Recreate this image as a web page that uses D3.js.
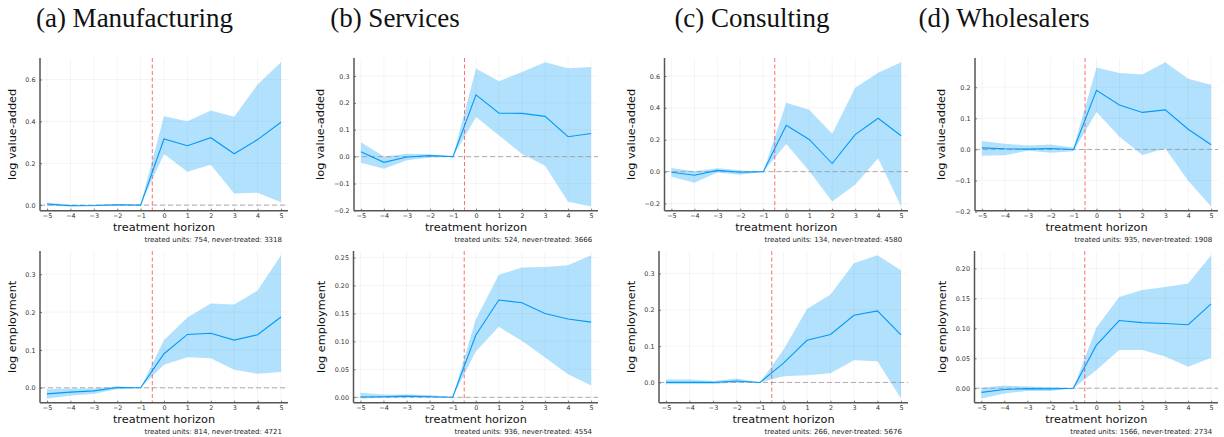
<!DOCTYPE html>
<html>
<head>
<meta charset="utf-8">
<script src="https://cdn.jsdelivr.net/npm/d3@7/dist/d3.min.js"></script>
<style>
  html, body { margin: 0; padding: 0; background: #fff; }
  svg { display: block; }
</style>
</head>
<body>
<svg id="chart" width="1224" height="437"></svg>
<script>
// Event-study estimates by sector, horizons -5..5 around treatment
const horizon = [-5, -4, -3, -2, -1, 0, 1, 2, 3, 4, 5];
const sectors = ["(a) Manufacturing", "(b) Services", "(c) Consulting", "(d) Wholesalers"];
const outcomes = ["log value-added", "log employment"];
const eventLine = -0.5;

// log value-added: point estimates and confidence bounds
const vaMfgEst = [0.005, -0.003, -0.002, 0.002, 0, 0.316, 0.284, 0.322, 0.245, 0.313, 0.396];
const vaMfgLo  = [-0.003, -0.006, -0.005, -0.002, 0, 0.244, 0.159, 0.193, 0.056, 0.059, 0.014];
const vaMfgHi  = [0.013, 0.002, 0.001, 0.004, 0, 0.424, 0.401, 0.452, 0.422, 0.576, 0.682];

const vaSrvEst = [0.018, -0.021, -0.001, 0.004, 0, 0.230, 0.162, 0.161, 0.150, 0.074, 0.086];
const vaSrvLo  = [-0.023, -0.045, -0.013, -0.003, 0, 0.148, 0.079, 0.010, -0.034, -0.168, -0.185];
const vaSrvHi  = [0.054, 0.001, 0.011, 0.009, 0, 0.328, 0.281, 0.315, 0.351, 0.329, 0.334];

const vaConEst = [-0.004, -0.023, 0.008, -0.004, 0, 0.291, 0.202, 0.051, 0.232, 0.335, 0.225];
const vaConLo  = [-0.032, -0.069, -0.006, -0.019, 0, 0.173, 0.004, -0.187, -0.082, 0.084, -0.218];
const vaConHi  = [0.023, 0.002, 0.021, 0.008, 0, 0.432, 0.389, 0.238, 0.526, 0.621, 0.686];

const vaWhoEst = [0.005, 0.002, 0.001, 0.003, 0, 0.190, 0.143, 0.119, 0.127, 0.065, 0.015];
const vaWhoLo  = [-0.020, -0.019, -0.004, -0.011, -0.006, 0.120, 0.041, -0.018, 0.003, -0.101, -0.183];
const vaWhoHi  = [0.027, 0.018, 0.013, 0.016, 0.006, 0.263, 0.246, 0.241, 0.280, 0.227, 0.208];

// log employment: point estimates and confidence bounds
const empMfgEst = [-0.016, -0.0115, -0.008, 0.001, 0, 0.090, 0.141, 0.144, 0.126, 0.140, 0.187];
const empMfgLo  = [-0.028, -0.021, -0.016, -0.004, 0, 0.061, 0.081, 0.078, 0.048, 0.037, 0.042];
const empMfgHi  = [-0.004, -0.002, -0.002, 0.004, 0, 0.126, 0.186, 0.223, 0.220, 0.257, 0.350];

const empSrvEst = [0.0006, 0.001, 0.002, 0.001, 0, 0.111, 0.174, 0.169, 0.150, 0.140, 0.1345];
const empSrvLo  = [-0.002, -0.001, -0.0006, -0.0006, 0, 0.082, 0.126, 0.101, 0.071, 0.041, 0.021];
const empSrvHi  = [0.008, 0.005, 0.005, 0.004, 0, 0.139, 0.219, 0.232, 0.233, 0.236, 0.254];

const empConEst = [0, 0, 0, 0.004, 0, 0.053, 0.116, 0.132, 0.185, 0.197, 0.131];
const empConLo  = [-0.005, -0.004, -0.004, -0.001, 0, 0.017, 0.020, 0.025, 0.061, 0.058, -0.044];
const empConHi  = [0.008, 0.008, 0.004, 0.011, 0, 0.090, 0.202, 0.242, 0.328, 0.350, 0.309];

const empWhoEst = [-0.007, -0.002, -0.0006, -0.001, 0, 0.0715, 0.113, 0.1095, 0.108, 0.106, 0.141];
const empWhoLo  = [-0.017, -0.009, -0.0045, -0.0045, 0, 0.030, 0.0637, 0.0637, 0.053, 0.036, 0.051];
const empWhoHi  = [0.0006, 0.0045, 0.003, 0.002, 0, 0.101, 0.1525, 0.164, 0.169, 0.175, 0.222];

// sample sizes per panel
const treatedVA  = [754, 524, 134, 935];
const neverVA    = [3318, 3666, 4580, 1908];
const treatedEmp = [814, 936, 266, 1566];
const neverEmp   = [4721, 4554, 5676, 2734];

// y-axis tick values per panel
const yticksVA  = [[0, 0.2, 0.4, 0.6], [-0.2, -0.1, 0, 0.1, 0.2, 0.3], [-0.2, 0, 0.2, 0.4, 0.6], [-0.2, -0.1, 0, 0.1, 0.2]];
const yticksEmp = [[0, 0.1, 0.2, 0.3], [0, 0.05, 0.1, 0.15, 0.2, 0.25], [0, 0.1, 0.2, 0.3], [0, 0.05, 0.1, 0.15, 0.2]];

const vaSeries  = [[vaMfgEst, vaMfgLo, vaMfgHi], [vaSrvEst, vaSrvLo, vaSrvHi], [vaConEst, vaConLo, vaConHi], [vaWhoEst, vaWhoLo, vaWhoHi]];
const empSeries = [[empMfgEst, empMfgLo, empMfgHi], [empSrvEst, empSrvLo, empSrvHi], [empConEst, empConLo, empConHi], [empWhoEst, empWhoLo, empWhoHi]];

// ---- layout ----
const colRight = [288, 598, 908, 1218];
const rowLeft = [[40, 354, 664.5, 975], [40, 353.5, 659, 974.5]];
const rowTop = [58, 251];
const rowBottom = [210.7, 402.7];
const titleCenter = [134.5, 395, 752, 1004];

const BLUE = "#009AFA";
const sans = "'DejaVu Sans', sans-serif";
const svg = d3.select("#chart");

svg.append("rect").attr("width", 1224).attr("height", 437).attr("fill", "#fff");

sectors.forEach((name, i) => {
  svg.append("text")
    .attr("x", titleCenter[i]).attr("y", 27)
    .attr("text-anchor", "middle")
    .attr("font-family", "'Liberation Serif', serif")
    .attr("font-size", 27)
    .attr("fill", "#111")
    .text(name);
});

function minus(s) { return s.replace("-", "\u2212"); }

function drawPanel(row, col) {
  const series = row === 0 ? vaSeries[col] : empSeries[col];
  const [est, lo, hi] = series;
  const ticks = row === 0 ? yticksVA[col] : yticksEmp[col];
  const treated = row === 0 ? treatedVA[col] : treatedEmp[col];
  const never = row === 0 ? neverVA[col] : neverEmp[col];

  const left = rowLeft[row][col], right = colRight[col];
  const top = rowTop[row], bottom = rowBottom[row];

  // axis limits: data extent (incl. zero line) padded by 3% each side
  const allY = lo.concat(hi, est, [0]);
  const ymin = d3.min(allY), ymax = d3.max(allY);
  const pad = (ymax - ymin) * 0.03;
  const x = d3.scaleLinear().domain([-5.3, 5.3]).range([left, right]);
  const y = d3.scaleLinear().domain([ymin - pad, ymax + pad]).range([bottom, top]);

  const g = svg.append("g");
  const step = ticks[1] - ticks[0];
  const decimals = step < 0.1 - 1e-9 ? 2 : 1;
  const fmt = d3.format("." + decimals + "f");

  // grid
  g.append("g").selectAll("line").data(horizon).join("line")
    .attr("x1", d => x(d)).attr("x2", d => x(d))
    .attr("y1", top).attr("y2", bottom)
    .attr("stroke", "#000").attr("stroke-opacity", 0.08).attr("stroke-width", 0.6);
  g.append("g").selectAll("line").data(ticks).join("line")
    .attr("x1", left).attr("x2", right)
    .attr("y1", d => y(d)).attr("y2", d => y(d))
    .attr("stroke", "#000").attr("stroke-opacity", 0.08).attr("stroke-width", 0.6);

  // confidence band
  const pts = horizon.map((h, k) => ({ h, est: est[k], lo: lo[k], hi: hi[k] }));
  g.append("path").datum(pts)
    .attr("d", d3.area().x(d => x(d.h)).y0(d => y(d.lo)).y1(d => y(d.hi)))
    .attr("fill", BLUE).attr("fill-opacity", 0.3);

  // reference lines
  g.append("line")
    .attr("x1", left).attr("x2", right).attr("y1", y(0)).attr("y2", y(0))
    .attr("stroke", "#999").attr("stroke-opacity", 0.8).attr("stroke-width", 1)
    .attr("stroke-dasharray", "5,3");
  g.append("line")
    .attr("x1", x(eventLine)).attr("x2", x(eventLine)).attr("y1", top).attr("y2", bottom)
    .attr("stroke", "#ff3030").attr("stroke-opacity", 0.7).attr("stroke-width", 1)
    .attr("stroke-dasharray", "4,2.5");

  // estimate line
  g.append("path").datum(pts)
    .attr("d", d3.line().x(d => x(d.h)).y(d => y(d.est)))
    .attr("fill", "none").attr("stroke", BLUE).attr("stroke-width", 1.1);

  // axes with short inward tick marks
  const xAxis = d3.axisBottom(x).tickValues(horizon).tickSizeInner(-2).tickSizeOuter(0).tickPadding(3)
    .tickFormat(d => minus(String(d)));
  const gx = g.append("g").attr("transform", `translate(0,${bottom})`).call(xAxis);
  const yAxis = d3.axisLeft(y).tickValues(ticks).tickSizeInner(-2).tickSizeOuter(0).tickPadding(4.5)
    .tickFormat(d => minus(fmt(d)));
  const gy = g.append("g").attr("transform", `translate(${left},0)`).call(yAxis);
  [gx, gy].forEach(a => {
    a.select(".domain").remove();
    a.selectAll(".tick line").attr("stroke", "#555").attr("stroke-width", 0.8);
    a.selectAll("text").attr("font-family", sans).attr("font-size", 6.4).attr("fill", "#333");
  });
  // frame: left and bottom spines
  g.append("line").attr("x1", left).attr("x2", right).attr("y1", bottom).attr("y2", bottom)
    .attr("stroke", "#555").attr("stroke-width", 1.5);
  g.append("line").attr("x1", left).attr("x2", left).attr("y1", top).attr("y2", bottom)
    .attr("stroke", "#555").attr("stroke-width", 1.5);

  // y label positioned just outside the tick labels
  let maxW = 0;
  gy.selectAll("text").each(function () { maxW = Math.max(maxW, this.getComputedTextLength()); });
  const ylx = left - 4.5 - maxW - 9.5;
  g.append("text")
    .attr("transform", `translate(${ylx},${(top + bottom) / 2}) rotate(-90)`)
    .attr("text-anchor", "middle")
    .attr("font-family", sans).attr("font-size", 11.3).attr("fill", "#111")
    .text(outcomes[row]);

  // x label and sample annotation
  g.append("text")
    .attr("x", (left + right) / 2).attr("y", bottom + 20.5)
    .attr("text-anchor", "middle")
    .attr("font-family", sans).attr("font-size", 11.3).attr("fill", "#111")
    .text("treatment horizon");
  g.append("text")
    .attr("x", x(5) + 1).attr("y", bottom + 30.8)
    .attr("text-anchor", "end")
    .attr("font-family", sans).attr("font-size", 7.0).attr("fill", "#222")
    .text(`treated units: ${treated}, never-treated: ${never}`);
}

for (let r = 0; r < 2; r++) for (let c = 0; c < 4; c++) drawPanel(r, c);
</script>
</body>
</html>
